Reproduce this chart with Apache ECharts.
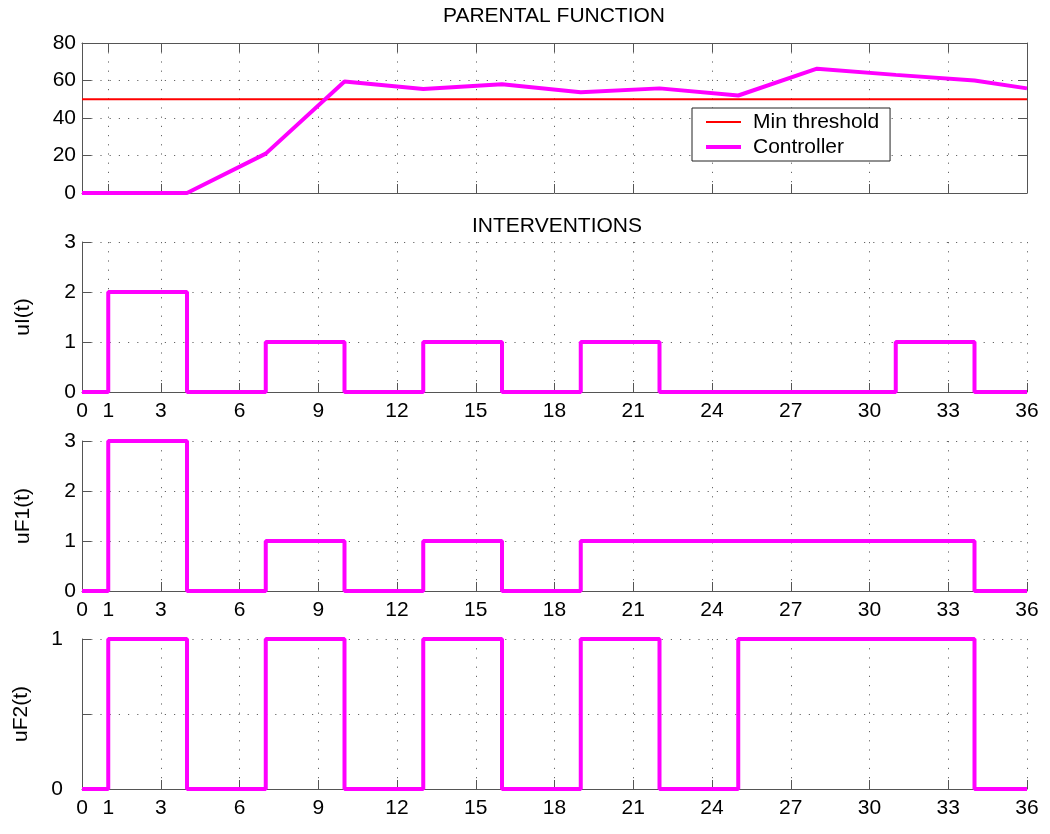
<!DOCTYPE html>
<html><head><meta charset="utf-8">
<script src="https://cdn.jsdelivr.net/npm/echarts@6/dist/echarts.min.js"></script>
<style>html,body{margin:0;padding:0;background:#fff}#c{width:1050px;height:834px}</style>
</head><body><div id="c"></div>
<script>
// ---- data ----
const months = [0, 1, 4, 7, 10, 13, 16, 19, 22, 25, 28, 31, 34, 36];
const controller = [0, 0, 0, 21, 59.5, 55.5, 58, 53.7, 55.8, 52, 66.3, 63, 60, 55.8];
const minThreshold = 50;
const uI  = [0, 2, 0, 1, 0, 1, 0, 1, 0, 0, 0, 1, 0, 0];
const uF1 = [0, 3, 0, 1, 0, 1, 0, 1, 1, 1, 1, 1, 0, 0];
const uF2 = [0, 1, 0, 1, 0, 1, 0, 1, 0, 1, 1, 1, 0, 0];
const xTicks = [0, 1, 3, 6, 9, 12, 15, 18, 21, 24, 27, 30, 33, 36];
const titles = ['PARENTAL FUNCTION', 'INTERVENTIONS'];
const yNames = ['uI(t)', 'uF1(t)', 'uF2(t)'];
const legendNames = ['Min threshold', 'Controller'];

// ---- styles ----
const FONT = 'Liberation Sans, Arial, Helvetica, sans-serif';
const FS = 21;
const AX = '#555';
const MAG = '#ff00ff';
const gridLine = { show: true, lineStyle: { color: '#666', width: 1, type: [1.2, 8] } };
const grids = [
  { left: 82, right: 23, top: 43, height: 150 },
  { left: 82, right: 23, top: 242, height: 150 },
  { left: 82, right: 23, top: 441, height: 150 },
  { left: 82, right: 23, top: 639, height: 150 }
];
const nameStyle = { fontSize: FS, fontFamily: FONT, color: '#000' };

function xAxisFor(gi, opts) {
  return Object.assign({
    type: 'value', gridIndex: gi, min: 0, max: 36,
    axisLine: { show: true, onZero: false, lineStyle: { color: AX, width: 1 } },
    axisTick: { show: true, inside: true, length: 9, customValues: xTicks, lineStyle: { color: AX } },
    axisLabel: { show: true, customValues: xTicks, color: '#000', fontSize: FS, fontFamily: FONT, margin: 9 },
    splitLine: gridLine
  }, opts || {});
}
function yAxisFor(gi, max, interval, opts) {
  return Object.assign({
    type: 'value', gridIndex: gi, min: 0, max: max, interval: interval,
    axisLine: { show: true, onZero: false, lineStyle: { color: AX, width: 1 } },
    axisTick: { show: true, inside: true, length: 9, lineStyle: { color: AX } },
    axisLabel: { show: true, color: '#000', fontSize: FS, fontFamily: FONT, margin: 6 },
    splitLine: gridLine
  }, opts || {});
}
const pairs = (xs, ys) => xs.map((x, i) => [x, ys[i]]);

const xAxes = [
  xAxisFor(0, { axisLabel: { show: false } }),
  xAxisFor(0, { position: 'top', splitLine: { show: false }, axisLabel: { show: false } }),
  xAxisFor(1), xAxisFor(2), xAxisFor(3)
];
const yAxes = [
  yAxisFor(0, 80, 20),
  yAxisFor(0, 80, 20, { position: 'right', splitLine: { show: false }, axisLabel: { show: false } }),
  yAxisFor(1, 3, 1, { name: yNames[0], nameLocation: 'middle', nameRotate: 90, nameGap: 48, nameTextStyle: nameStyle }),
  yAxisFor(2, 3, 1, { name: yNames[1], nameLocation: 'middle', nameRotate: 90, nameGap: 48, nameTextStyle: nameStyle }),
  yAxisFor(3, 1, 0.5, { name: yNames[2], nameLocation: 'middle', nameRotate: 90, nameGap: 50, nameTextStyle: nameStyle,
    axisLabel: { show: true, color: '#000', fontSize: FS, fontFamily: FONT, margin: 19,
      formatter: v => (v === 0.5 ? '' : String(v)) } })
];

const stepSeries = (name, xi, yi, ys) => ({
  name: name, type: 'line', xAxisIndex: xi, yAxisIndex: yi, step: 'end',
  data: pairs(months, ys), symbol: 'none', silent: true,
  lineStyle: { color: MAG, width: 4 }, itemStyle: { color: MAG }
});

const option = {
  animation: false,
  backgroundColor: '#fff',
  textStyle: { fontFamily: FONT },
  title: [
    { text: titles[0], left: 554, top: 6, textAlign: 'center', padding: 0,
      textStyle: { fontSize: FS, fontWeight: 'normal', color: '#000', fontFamily: FONT } },
    { text: titles[1], left: 557, top: 216, textAlign: 'center', padding: 0,
      textStyle: { fontSize: FS, fontWeight: 'normal', color: '#000', fontFamily: FONT } }
  ],
  legend: {
    data: [
      { name: legendNames[0], lineStyle: { width: 2 } },
      { name: legendNames[1], lineStyle: { width: 4 } }
    ],
    orient: 'vertical', left: 692, top: 108,
    backgroundColor: '#fff', borderColor: '#222', borderWidth: 1,
    padding: [3, 11, 3, 12], itemWidth: 35, itemHeight: 14, itemGap: 3,
    selectedMode: false,
    itemStyle: { opacity: 0 },
    lineStyle: { width: 'inherit' },
    textStyle: { fontSize: FS, fontFamily: FONT, color: '#000', lineHeight: 22, padding: [0, 0, 0, 7] }
  },
  grid: grids,
  xAxis: xAxes,
  yAxis: yAxes,
  series: [
    { name: legendNames[0], type: 'line', xAxisIndex: 0, yAxisIndex: 0,
      data: [[months[0], minThreshold], [months[months.length - 1], minThreshold]],
      symbol: 'none', silent: true, lineStyle: { color: '#ff0000', width: 2 }, itemStyle: { color: '#ff0000' } },
    { name: legendNames[1], type: 'line', xAxisIndex: 0, yAxisIndex: 0,
      data: pairs(months, controller), symbol: 'none', silent: true,
      lineStyle: { color: MAG, width: 4 }, itemStyle: { color: MAG } },
    stepSeries('uI', 2, 2, uI),
    stepSeries('uF1', 3, 3, uF1),
    stepSeries('uF2', 4, 4, uF2)
  ]
};
const chart = echarts.init(document.getElementById('c'), null, { renderer: 'canvas' });
chart.setOption(option);
</script>
</body></html>
